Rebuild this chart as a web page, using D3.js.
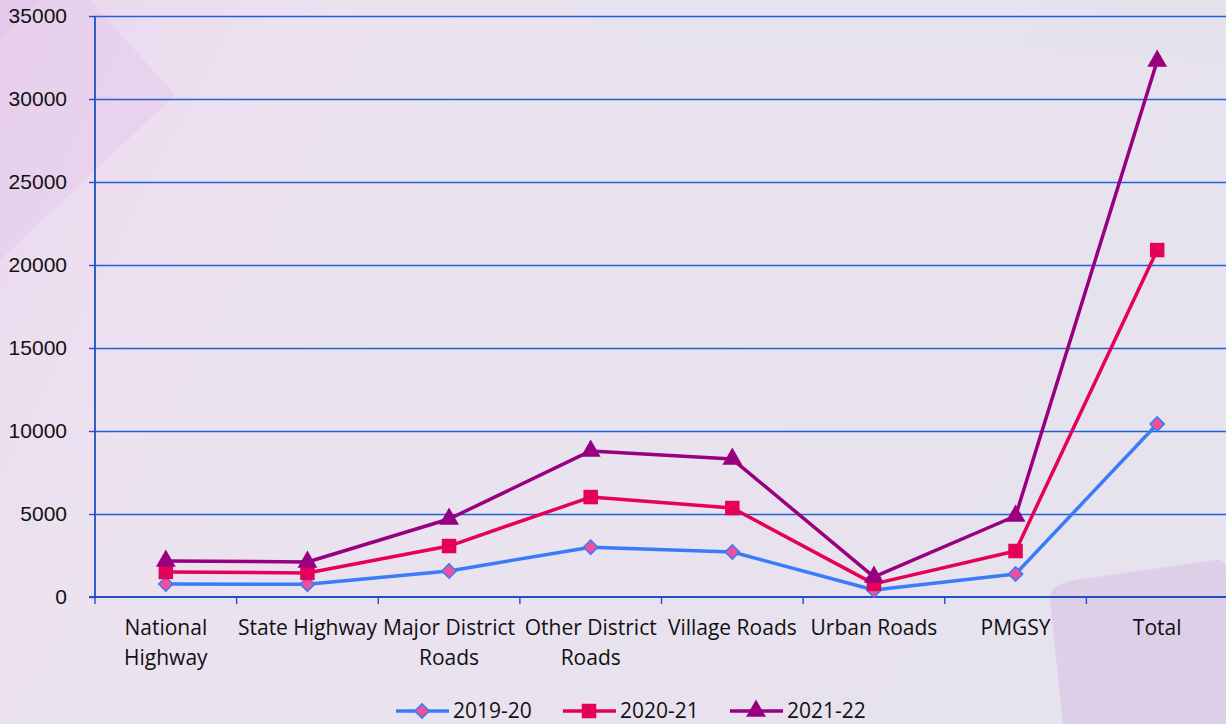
<!DOCTYPE html>
<html>
<head>
<meta charset="utf-8">
<script src="https://cdn.jsdelivr.net/npm/d3@7"></script>
<style>
  body { margin: 0; background: #ebe3ef; }
  svg { display: block; font-family: "Open Sans", "Liberation Sans", sans-serif; }
</style>
</head>
<body>
<svg class="chart"></svg>
<script>
// categories and series
var categories = ["National Highway", "State Highway", "Major District Roads", "Other District Roads",
                  "Village Roads", "Urban Roads", "PMGSY", "Total"];
var categoryLines = [["National", "Highway"], ["State Highway"], ["Major District", "Roads"], ["Other District", "Roads"],
                     ["Village Roads"], ["Urban Roads"], ["PMGSY"], ["Total"]];
var seriesNames = ["2019-20", "2020-21", "2021-22"];
var values2019 = [780, 770, 1570, 3000, 2710, 420, 1390, 10420];
var values2020 = [1510, 1450, 3070, 6020, 5360, 790, 2770, 20900];
var values2021 = [2170, 2110, 4700, 8800, 8310, 1210, 4880, 32290];
var yTicks = [0, 5000, 10000, 15000, 20000, 25000, 30000, 35000];

window.onload = function () {
    var width = 1226, height = 724;
    var left = 95, right = 1228, top = 16, bottom = 597;

    var svg = d3.select("svg.chart").attr("width", width).attr("height", height);

    // background with soft decorative shapes
    var defs = svg.append("defs");
    var bg = defs.append("linearGradient").attr("id", "bg").attr("x1", 0).attr("y1", 0).attr("x2", 1).attr("y2", 0.3);
    bg.append("stop").attr("offset", "0%").attr("stop-color", "#ecd6ee");
    bg.append("stop").attr("offset", "25%").attr("stop-color", "#ece2f0");
    bg.append("stop").attr("offset", "100%").attr("stop-color", "#e6e2ee");
    svg.append("rect").attr("width", width).attr("height", height).attr("fill", "url(#bg)");
    svg.append("path").attr("d", "M0,0 L90,0 L175,95 L0,260 Z").attr("fill", "#e7cdec").attr("opacity", 0.7);
    svg.append("path").attr("d", "M0,0 L40,0 L0,40 Z").attr("fill", "#e2c4e8").attr("opacity", 0.6);
    svg.append("path").attr("d", "M1050,600 Q1048,585 1075,580 L1215,560 Q1226,558 1226,570 L1226,724 L1063,724 Z")
        .attr("fill", "#dccbe7").attr("opacity", 0.8);
    svg.append("path").attr("d", "M560,0 L1226,0 L1226,60 Q900,40 700,60 Q600,40 560,0 Z").attr("fill", "#e4e2ee").attr("opacity", 0.6);

    var x = d3.scaleBand().domain(categories).range([left, right]);
    var y = d3.scaleLinear().domain([0, 35000]).range([bottom, top]);

    // gridlines
    svg.append("g").selectAll("line").data(yTicks.slice(1)).enter().append("line")
        .attr("x1", left).attr("x2", width).attr("y1", d => Math.round(y(d)) + 0.5).attr("y2", d => Math.round(y(d)) + 0.5)
        .attr("stroke", "#1e62d8").attr("stroke-width", 1.4);

    // y axis
    var yAxis = svg.append("g").attr("transform", "translate(" + left + ",0)")
        .call(d3.axisLeft(y).tickValues(yTicks).tickSize(6).tickPadding(22).tickFormat(d3.format("d")));
    yAxis.select(".domain").attr("stroke", "#1f50c4").attr("stroke-width", 1.8).attr("d", "M0," + top + "V" + bottom);
    yAxis.selectAll(".tick line").attr("stroke", "#1f50c4").attr("stroke-width", 1.4);
    yAxis.selectAll(".tick text").attr("fill", "#111").style("font-size", "21px");

    // x axis
    svg.append("line").attr("x1", left - 6).attr("x2", width).attr("y1", bottom).attr("y2", bottom)
        .attr("stroke", "#1f50c4").attr("stroke-width", 1.8);
    svg.append("g").selectAll("line").data(categories).enter().append("line")
        .attr("x1", d => x(d)).attr("x2", d => x(d)).attr("y1", bottom).attr("y2", bottom + 7)
        .attr("stroke", "#1f50c4").attr("stroke-width", 1.4);

    var labels = svg.append("g").selectAll("text").data(categories).enter().append("text")
        .attr("x", d => x(d) + x.bandwidth() / 2).attr("y", bottom + 38)
        .attr("text-anchor", "middle").attr("fill", "#111").style("font-size", "21px");
    labels.each(function (d, i) {
        var t = d3.select(this);
        categoryLines[i].forEach(function (line, j) {
            t.append("tspan").attr("x", x(d) + x.bandwidth() / 2).attr("dy", j === 0 ? 0 : 30).text(line);
        });
    });

    var series = [
        { name: seriesNames[0], values: values2019, color: "#3a7cf8", marker: "diamond", fill: "#f0509a", stroke: "#3a7cf8" },
        { name: seriesNames[1], values: values2020, color: "#e5005a", marker: "square", fill: "#e5005a", stroke: "none" },
        { name: seriesNames[2], values: values2021, color: "#980080", marker: "triangle", fill: "#980080", stroke: "none" }
    ];

    var symbolType = { diamond: d3.symbolDiamond2, square: d3.symbolSquare, triangle: d3.symbolTriangle };
    var symbolSize = { diamond: 130, square: 210, triangle: 170 };

    var line = d3.line().x((d, i) => x(categories[i]) + x.bandwidth() / 2).y(d => y(d));

    series.forEach(function (s) {
        svg.append("path").datum(s.values).attr("d", line)
            .attr("fill", "none").attr("stroke", s.color).attr("stroke-width", 3.5).attr("stroke-linejoin", "round");
        svg.append("g").selectAll("path").data(s.values).enter().append("path")
            .attr("transform", (d, i) => "translate(" + (x(categories[i]) + x.bandwidth() / 2) + "," + y(d) + ")")
            .attr("d", d3.symbol().type(symbolType[s.marker]).size(symbolSize[s.marker]))
            .attr("fill", s.fill).attr("stroke", s.stroke).attr("stroke-width", 1.5);
    });

    // legend
    var legendX = [396, 563, 730];
    var legend = svg.append("g").selectAll("g").data(series).enter().append("g")
        .attr("transform", (d, i) => "translate(" + legendX[i] + ",711)");
    legend.append("line").attr("x1", 0).attr("x2", 53).attr("stroke", d => d.color).attr("stroke-width", 3.5);
    legend.append("path").attr("transform", "translate(26,0)")
        .attr("d", d => d3.symbol().type(symbolType[d.marker]).size(symbolSize[d.marker])())
        .attr("fill", d => d.fill).attr("stroke", d => d.stroke).attr("stroke-width", 1.5);
    legend.append("text").attr("x", 57).attr("y", 7).attr("fill", "#111").style("font-size", "21px").text(d => d.name);
};
</script>
</body>
</html>
